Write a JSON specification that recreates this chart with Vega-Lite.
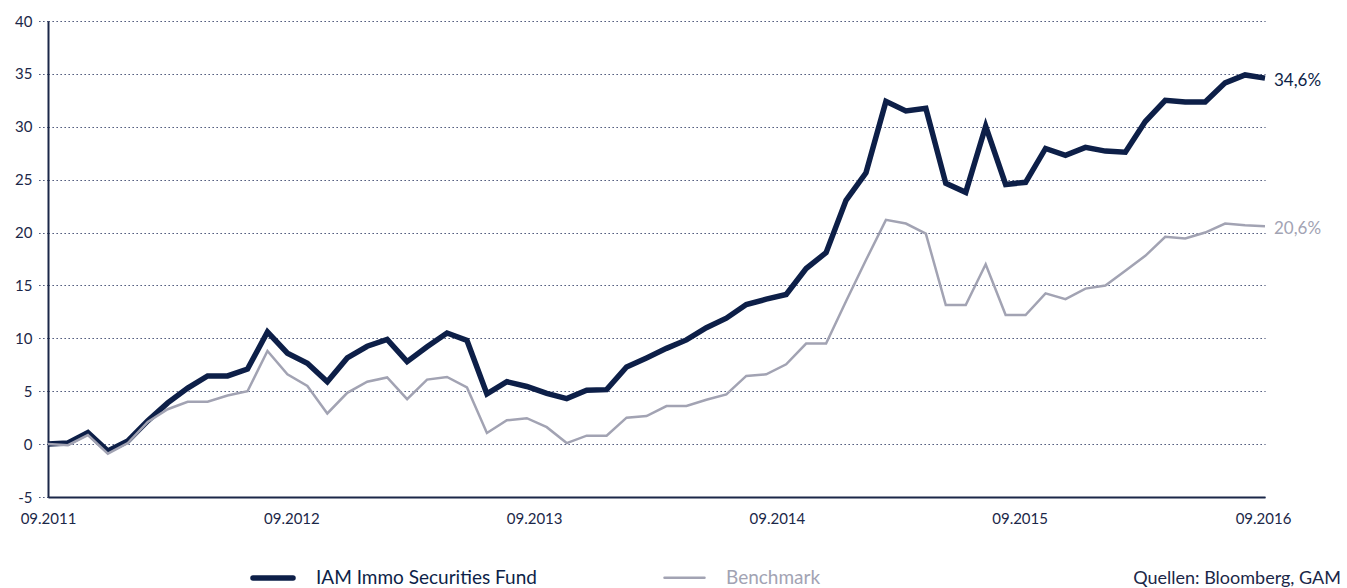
{
  "$schema": "https://vega.github.io/schema/vega-lite/v6.json",
  "width": 1217,
  "height": 476,
  "autosize": {"type": "none"},
  "padding": {"left": 48, "top": 21, "right": 82, "bottom": 91},
  "background": "white",
  "config": {
    "font": "Lato",
    "view": {"stroke": null},
    "axis": {"labelFont": "Lato", "labelColor": "#1b2748", "titleColor": "#1b2748"},
    "legend": {"labelFont": "Lato"}
  },
  "title": {
    "text": "Quellen: Bloomberg, GAM",
    "orient": "bottom",
    "anchor": "end",
    "frame": "group",
    "fontSize": 18,
    "fontWeight": "normal",
    "color": "#1b2748",
    "offset": -19,
    "dx": 76
  },
  "data": {
    "values": [
      {"date": "2011-09-01", "F": 0.0, "B": 0.0},
      {"date": "2011-10-01", "F": 0.1, "B": -0.1},
      {"date": "2011-10-31", "F": 1.1, "B": 0.85},
      {"date": "2011-11-30", "F": -0.65, "B": -0.9},
      {"date": "2011-12-30", "F": 0.3, "B": 0.1},
      {"date": "2012-01-29", "F": 2.2, "B": 2.1},
      {"date": "2012-02-28", "F": 3.9, "B": 3.3},
      {"date": "2012-03-29", "F": 5.3, "B": 4.0},
      {"date": "2012-04-28", "F": 6.45, "B": 4.0},
      {"date": "2012-05-28", "F": 6.45, "B": 4.6},
      {"date": "2012-06-27", "F": 7.1, "B": 5.0},
      {"date": "2012-07-27", "F": 10.6, "B": 8.8},
      {"date": "2012-08-26", "F": 8.6, "B": 6.6},
      {"date": "2012-09-25", "F": 7.65, "B": 5.5},
      {"date": "2012-10-25", "F": 5.9, "B": 2.9},
      {"date": "2012-11-24", "F": 8.15, "B": 4.85},
      {"date": "2012-12-24", "F": 9.25, "B": 5.9},
      {"date": "2013-01-23", "F": 9.9, "B": 6.3},
      {"date": "2013-02-22", "F": 7.8, "B": 4.25},
      {"date": "2013-03-24", "F": 9.2, "B": 6.1},
      {"date": "2013-04-23", "F": 10.5, "B": 6.35},
      {"date": "2013-05-23", "F": 9.8, "B": 5.35},
      {"date": "2013-06-22", "F": 4.75, "B": 1.05},
      {"date": "2013-07-22", "F": 5.9, "B": 2.25},
      {"date": "2013-08-21", "F": 5.45, "B": 2.45},
      {"date": "2013-09-20", "F": 4.8, "B": 1.6},
      {"date": "2013-10-20", "F": 4.3, "B": 0.1},
      {"date": "2013-11-19", "F": 5.1, "B": 0.8},
      {"date": "2013-12-19", "F": 5.15, "B": 0.8},
      {"date": "2014-01-18", "F": 7.3, "B": 2.5},
      {"date": "2014-02-17", "F": 8.15, "B": 2.65},
      {"date": "2014-03-19", "F": 9.05, "B": 3.6},
      {"date": "2014-04-18", "F": 9.85, "B": 3.6},
      {"date": "2014-05-18", "F": 11.0, "B": 4.2},
      {"date": "2014-06-17", "F": 11.9, "B": 4.7},
      {"date": "2014-07-17", "F": 13.2, "B": 6.45},
      {"date": "2014-08-16", "F": 13.7, "B": 6.6},
      {"date": "2014-09-15", "F": 14.15, "B": 7.55},
      {"date": "2014-10-15", "F": 16.6, "B": 9.5},
      {"date": "2014-11-14", "F": 18.1, "B": 9.5},
      {"date": "2014-12-14", "F": 23.05, "B": 13.5},
      {"date": "2015-01-13", "F": 25.65, "B": 17.4},
      {"date": "2015-02-12", "F": 32.4, "B": 21.2},
      {"date": "2015-03-14", "F": 31.5, "B": 20.85},
      {"date": "2015-04-13", "F": 31.75, "B": 19.9},
      {"date": "2015-05-13", "F": 24.65, "B": 13.15},
      {"date": "2015-06-12", "F": 23.8, "B": 13.15},
      {"date": "2015-07-12", "F": 30.05, "B": 17.0},
      {"date": "2015-08-11", "F": 24.55, "B": 12.2},
      {"date": "2015-09-10", "F": 24.75, "B": 12.2},
      {"date": "2015-10-10", "F": 27.95, "B": 14.25},
      {"date": "2015-11-09", "F": 27.3, "B": 13.7},
      {"date": "2015-12-09", "F": 28.05, "B": 14.7},
      {"date": "2016-01-08", "F": 27.7, "B": 15.0},
      {"date": "2016-02-07", "F": 27.6, "B": 16.4},
      {"date": "2016-03-08", "F": 30.5, "B": 17.8},
      {"date": "2016-04-07", "F": 32.5, "B": 19.6},
      {"date": "2016-05-07", "F": 32.35, "B": 19.45},
      {"date": "2016-06-06", "F": 32.35, "B": 20.0},
      {"date": "2016-07-06", "F": 34.15, "B": 20.85},
      {"date": "2016-08-05", "F": 34.9, "B": 20.7},
      {"date": "2016-09-04", "F": 34.6, "B": 20.6}
    ]
  },
  "layer": [
    {
      "transform": [{"fold": ["F", "B"], "as": ["series", "value"]}],
      "mark": {"type": "line", "clip": false},
      "encoding": {
        "x": {
          "field": "date",
          "type": "temporal",
          "scale": {"domain": [{"year": 2011, "month": 9, "date": 1}, {"year": 2016, "month": 9, "date": 4}]},
          "axis": {
            "title": null,
            "values": [
              {"year": 2011, "month": 9, "date": 1},
              {"year": 2012, "month": 9, "date": 1},
              {"year": 2013, "month": 9, "date": 1},
              {"year": 2014, "month": 9, "date": 1},
              {"year": 2015, "month": 9, "date": 1},
              {"year": 2016, "month": 9, "date": 1}
            ],
            "format": "%m.%Y",
            "grid": false,
            "ticks": false,
            "domainColor": "#1b2748",
            "domainWidth": 2,
            "labelFontSize": 15,
            "labelPadding": 14,
            "labelFlush": false,
            "labelOverlap": false
          }
        },
        "y": {
          "field": "value",
          "type": "quantitative",
          "scale": {"domain": [-5, 40], "nice": false, "zero": false},
          "axis": {
            "title": null,
            "values": [-5, 0, 5, 10, 15, 20, 25, 30, 35, 40],
            "labelExpr": "'' + datum.value",
            "grid": true,
            "gridColor": "#2a3760",
            "gridDash": [1.3, 2.7],
            "gridWidth": 1,
            "tickColor": "#2a3760",
            "tickDash": [1.3, 2.7],
            "tickSize": 10,
            "domainColor": "#1b2748",
            "domainWidth": 2,
            "labelFontSize": 15,
            "labelPadding": 6
          }
        },
        "color": {
          "field": "series",
          "type": "nominal",
          "scale": {"domain": ["F", "B"], "range": ["#0d1f48", "#a2a3b3"]},
          "legend": {
            "title": null,
            "orient": "none",
            "legendX": 202,
            "legendY": 534,
            "direction": "horizontal",
            "symbolType": "stroke",
            "symbolSize": 1600,
            "labelFontSize": 19,
            "labelOffset": 20,
            "labelLimit": 400,
            "columnPadding": 122,
            "labelExpr": "datum.label == 'F' ? 'IAM Immo Securities Fund' : 'Benchmark'",
            "encode": {
              "labels": {"update": {"fill": {"signal": "datum.label == 'F' ? '#0d1f48' : '#a2a3b3'"}}},
              "symbols": {"update": {"strokeCap": {"value": "round"}, "strokeWidth": {"signal": "datum.value == 'F' ? 6 : 2.5"}}}
            }
          }
        },
        "strokeWidth": {
          "field": "series",
          "type": "nominal",
          "scale": {"domain": ["F", "B"], "range": [5.5, 2.5]},
          "legend": null
        }
      }
    },
    {
      "data": {
        "values": [
          {"date": "2016-09-04", "series": "F", "value": 34.6, "label": "34,6%"},
          {"date": "2016-09-04", "series": "B", "value": 20.6, "label": "20,6%"}
        ]
      },
      "mark": {"type": "text", "align": "left", "baseline": "middle", "dx": 9, "dy": 3, "fontSize": 17, "clip": false},
      "encoding": {
        "x": {"field": "date", "type": "temporal"},
        "y": {"field": "value", "type": "quantitative"},
        "text": {"field": "label"},
        "color": {"field": "series", "type": "nominal", "legend": null}
      }
    }
  ]
}
